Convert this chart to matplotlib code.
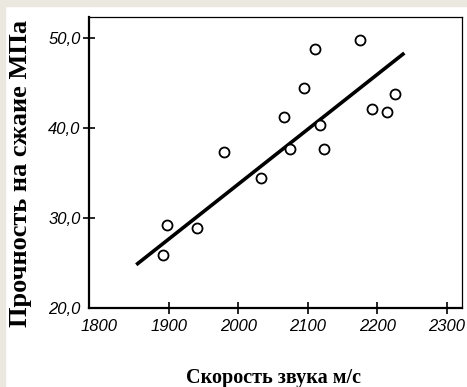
import matplotlib
matplotlib.use("Agg")
import matplotlib.pyplot as plt
from matplotlib.patches import Rectangle
from matplotlib.font_manager import FontProperties

# speed of sound (m/s) vs compressive strength (MPa)
speed = [1891, 1898, 1940, 1979, 2032, 2066, 2075, 2094, 2110, 2117, 2124, 2175, 2193, 2214, 2225]
strength = [25.9, 29.2, 28.9, 37.3, 34.4, 41.2, 37.6, 44.4, 48.8, 40.3, 37.7, 49.8, 42.1, 41.8, 43.8]

# regression line end points
fit_x = [1853, 2239]
fit_y = [24.8, 48.3]

x_ticks = [1800, 1900, 2000, 2100, 2200, 2300]
y_ticks = [20, 30, 40, 50]
y_ticklabels = ["20,0", "30,0", "40,0", "50,0"]

W, H = 467, 387
fig = plt.figure(figsize=(W / 100, H / 100), dpi=100, facecolor="white")
# beige slide border on top and left
fig.patches.append(Rectangle((0, 1 - 6 / H), 1, 6 / H, transform=fig.transFigure,
                             color="#ebe9df", zorder=0))
fig.patches.append(Rectangle((0, 0), 5 / W, 1, transform=fig.transFigure,
                             color="#ebe9df", zorder=0))

ax = fig.add_axes([89 / W, 1 - 308 / H, (462 - 89) / W, (308 - 17) / H])
ax.plot(fit_x, fit_y, color="black", lw=2.6, solid_capstyle="butt", zorder=2)
ax.plot(speed, strength, "o", ms=7.2, mfc="white", mec="black", mew=1.3, zorder=3)

ax.set_xlim(1785, 2322)
ax.set_ylim(20, 52.3)
ax.set_xticks(x_ticks)
ax.set_xticklabels([str(t) for t in x_ticks])
ax.set_yticks(y_ticks)
ax.set_yticklabels(y_ticklabels)

tick_fp = FontProperties(family=["Liberation Sans", "DejaVu Sans"], style="italic", size=12)
for lab in ax.get_xticklabels() + ax.get_yticklabels():
    lab.set_fontproperties(tick_fp)

ax.tick_params(direction="inout", length=8, width=1.2, colors="black", pad=2)
ax.tick_params(axis="x", pad=4)
# no tick marks at the corner labels
ax.xaxis.get_major_ticks()[0].tick1line.set_visible(False)
ax.yaxis.get_major_ticks()[0].tick1line.set_visible(False)

ax.spines["left"].set_linewidth(1.6)
ax.spines["bottom"].set_linewidth(1.6)
ax.spines["top"].set_linewidth(0.9)
ax.spines["right"].set_linewidth(0.9)

label_font = dict(family=["Liberation Serif", "DejaVu Serif"], weight="bold")
fig.text(21 / W, 1 - 173 / H, "Прочность на сжаие МПа", rotation=90,
         ha="center", va="center", size=19, **label_font)
fig.text(274 / W, 1 - 383 / H, "Скорость звука м/с", ha="center", va="baseline",
         size=14.5, **label_font)

fig.savefig("out.png", dpi=100, facecolor=fig.get_facecolor())
